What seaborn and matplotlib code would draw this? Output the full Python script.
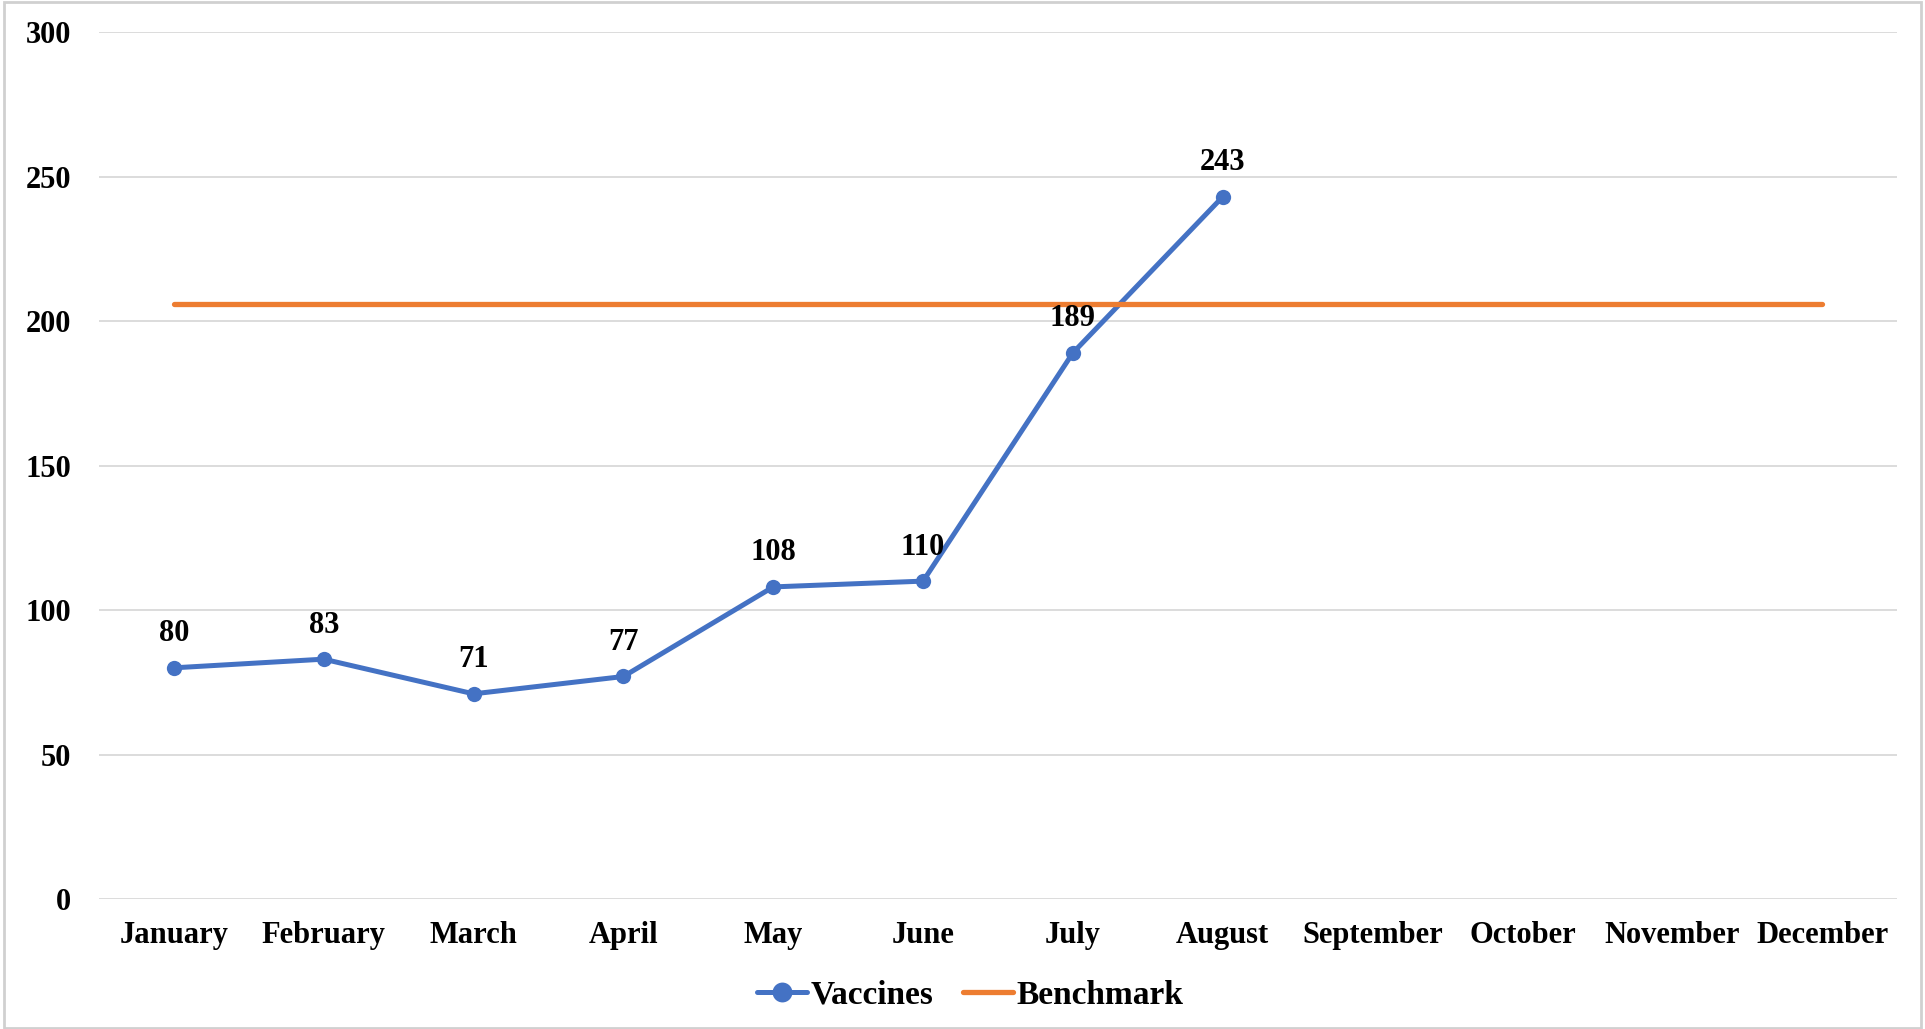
import numpy as np
import pandas as pd
import matplotlib
matplotlib.use("Agg")
import matplotlib.pyplot as plt
import seaborn as sns
from matplotlib.patches import Rectangle

# data
months = ["January", "February", "March", "April", "May", "June",
          "July", "August", "September", "October", "November", "December"]
vaccines = [80, 83, 71, 77, 108, 110, 189, 243]
benchmark = [206] * 12

sns.set_style("white")
plt.rcParams["font.family"] = ["Liberation Serif", "DejaVu Serif"]
plt.rcParams["font.weight"] = "bold"
plt.rcParams["text.color"] = "black"
plt.rcParams["xtick.color"] = "black"
plt.rcParams["ytick.color"] = "black"

FS = 22
BLUE = "#4472C4"
ORANGE = "#ED7D31"

vac_df = pd.DataFrame({"pos": np.arange(len(vaccines)), "value": vaccines})
bench_df = pd.DataFrame({"pos": np.arange(len(benchmark)), "value": benchmark})

fig = plt.figure(figsize=(19.25, 10.29), dpi=100)
ax = fig.add_axes([0.0514, 0.1263, 0.9341, 0.8426])

sns.lineplot(data=vac_df, x="pos", y="value", ax=ax, color=BLUE, lw=3.6,
             marker="o", markersize=11, markeredgewidth=0, label="Vaccines")
sns.lineplot(data=bench_df, x="pos", y="value", ax=ax, color=ORANGE, lw=3.8,
             label="Benchmark")

# data labels above the points
for i, v in enumerate(vaccines):
    ax.annotate(str(v), (i, v), xytext=(0, 14), textcoords="offset points",
                ha="center", va="bottom", fontsize=FS, fontweight="bold",
                color="black")

ax.set_xlim(-0.5, len(months) - 0.5)
ax.set_ylim(0, 300)
ax.set_yticks(np.arange(0, 301, 50))
ax.set_xticks(np.arange(len(months)))
ax.set_xticklabels(months)
ax.set_xlabel("")
ax.set_ylabel("")
ax.tick_params(axis="both", length=0, labelsize=FS, labelcolor="black")
ax.tick_params(axis="y", pad=20)
ax.tick_params(axis="x", pad=16)
for lbl in ax.get_xticklabels() + ax.get_yticklabels():
    lbl.set_fontweight("bold")

ax.grid(axis="y", color="#d9d9d9", lw=1.3)
ax.set_axisbelow(True)
for s in ax.spines.values():
    s.set_visible(False)

leg = ax.legend(loc="center", bbox_to_anchor=(0.4845, -0.111), ncol=2, frameon=False,
                prop={"weight": "bold", "size": 24},
                handlelength=1.5, handletextpad=0.1, columnspacing=0.9,
                markerscale=1.3)
for t in leg.get_texts():
    t.set_color("black")

fig.patches.append(Rectangle((0.002, 0.001), 0.996, 0.997, transform=fig.transFigure,
                             fill=False, edgecolor="#d0d0d0", lw=2))

fig.savefig("out.png", dpi=100)
